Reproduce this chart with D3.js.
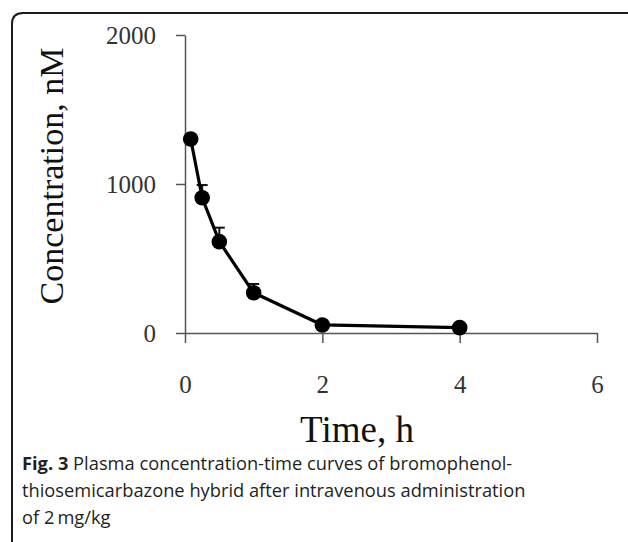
<!DOCTYPE html>
<html>
<head>
<meta charset="utf-8">
<script src="https://cdn.jsdelivr.net/npm/d3@7"></script>
<style>
  html, body { margin: 0; padding: 0; background: #fff; }
  svg { display: block; }
</style>
</head>
<body>
<svg id="chart" width="628" height="542"></svg>
<script>
// ---- data ----
const times = [0.083, 0.25, 0.5, 1, 2, 4];          // h
const concentration = [1302, 908, 613, 270, 54, 36]; // nM
const errorUpper = [30, 85, 94, 59, 15, 10];         // nM (SD)
const xTicks = [0, 2, 4, 6];
const yTicks = [0, 1000, 2000];
const xTitle = "Time, h";
const yTitle = "Concentration, nM";
const captionBold = "Fig. 3";
const captionLines = [
  " Plasma concentration-time curves of bromophenol-",
  "thiosemicarbazone hybrid after intravenous administration",
  "of 2\u2009mg/kg"
];

const svg = d3.select("#chart");

// frame (rounded top-left corner, open to the right and bottom)
svg.append("path")
  .attr("d", "M12,545 L12,24 Q12,13 23,13 L632,13")
  .attr("fill", "none")
  .attr("stroke", "#1a1a1a")
  .attr("stroke-width", 2);

const x = d3.scaleLinear().domain([0, 6]).range([185, 597]);
const y = d3.scaleLinear().domain([0, 2000]).range([333, 35]);

const axisColor = "#555";
const serif = "'Liberation Serif', 'Times New Roman', serif";

// y axis
const gy = svg.append("g")
  .attr("transform", `translate(${x(0)},0)`)
  .call(d3.axisLeft(y).tickValues(yTicks).tickFormat(d3.format("d"))
        .tickSize(9).tickSizeOuter(0).tickPadding(20));
gy.select(".domain").attr("stroke", axisColor).attr("stroke-width", 1.5);
gy.selectAll(".tick line").attr("stroke", axisColor).attr("stroke-width", 1.5);
gy.selectAll(".tick text")
  .attr("font-family", serif).attr("font-size", 25).attr("fill", "#333");

// x axis
const gx = svg.append("g")
  .attr("transform", `translate(0,${y(0)})`)
  .call(d3.axisBottom(x).tickValues(xTicks).tickFormat(d3.format("d"))
        .tickSize(10).tickSizeOuter(0).tickPadding(32));
gx.select(".domain").attr("stroke", axisColor).attr("stroke-width", 1.5);
gx.selectAll(".tick line").attr("stroke", axisColor).attr("stroke-width", 1.5);
gx.selectAll(".tick text")
  .attr("font-family", serif).attr("font-size", 25).attr("fill", "#333");

// axis titles
svg.append("text")
  .attr("transform", `translate(63,176) rotate(-90)`)
  .attr("text-anchor", "middle")
  .attr("font-family", serif).attr("font-size", 34).attr("fill", "#111")
  .text(yTitle);

svg.append("text")
  .attr("x", 357).attr("y", 442)
  .attr("text-anchor", "middle")
  .attr("font-family", serif).attr("font-size", 37).attr("fill", "#111")
  .text(xTitle);

// data
const data = times.map((t, i) => ({ t, c: concentration[i], e: errorUpper[i] }));

// error bars (upper)
const eb = svg.append("g");
eb.selectAll("line.stem").data(data).join("line")
  .attr("x1", d => x(d.t)).attr("x2", d => x(d.t))
  .attr("y1", d => y(d.c)).attr("y2", d => y(d.c + d.e))
  .attr("stroke", "#111").attr("stroke-width", 2);
eb.selectAll("line.cap").data(data).join("line")
  .attr("x1", d => x(d.t) - 5.5).attr("x2", d => x(d.t) + 5.5)
  .attr("y1", d => y(d.c + d.e)).attr("y2", d => y(d.c + d.e))
  .attr("stroke", "#111").attr("stroke-width", 2);

svg.append("path")
  .datum(data)
  .attr("fill", "none")
  .attr("stroke", "#000")
  .attr("stroke-width", 3.2)
  .attr("stroke-linejoin", "round")
  .attr("d", d3.line().x(d => x(d.t)).y(d => y(d.c)));

svg.append("g").selectAll("circle").data(data).join("circle")
  .attr("cx", d => x(d.t)).attr("cy", d => y(d.c))
  .attr("r", 7.8).attr("fill", "#000");

// caption
const cap = svg.append("g")
  .attr("font-family", "'Open Sans', 'Noto Sans', sans-serif")
  .attr("font-size", 18.3).attr("fill", "#231f20");
const first = cap.append("text").attr("x", 22).attr("y", 470);
first.append("tspan").attr("font-weight", "bold").text(captionBold);
first.append("tspan").text(captionLines[0]);
cap.append("text").attr("x", 22).attr("y", 497).text(captionLines[1]);
cap.append("text").attr("x", 22).attr("y", 524).text(captionLines[2]);
</script>
</body>
</html>
